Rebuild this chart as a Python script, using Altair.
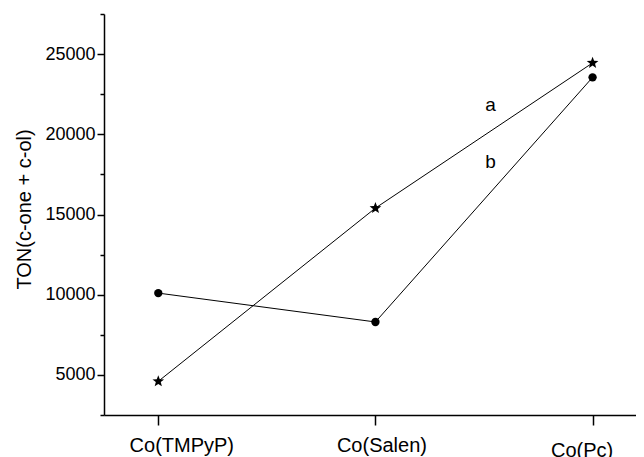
import altair as alt
import pandas as pd

categories = ["Co(TMPyP)", "Co(Salen)", "Co(Pc)"]
ton_a = [4600, 15400, 24450]    # series a (stars)
ton_b = [10100, 8300, 23550]    # series b (circles)
note_labels = ["a", "b"]
note_x = [1.53, 1.53]
note_y = [21450, 17900]
y_major = [5000, 10000, 15000, 20000, 25000]
y_minor = [2500, 7500, 12500, 17500, 22500, 27500]

rows = []
for i, c in enumerate(categories):
    rows.append({"cat": c, "pos": i, "ton": ton_a[i], "series": "a"})
    rows.append({"cat": c, "pos": i, "ton": ton_b[i], "series": "b"})
df = pd.DataFrame(rows)
notes = pd.DataFrame({"label": note_labels, "pos": note_x, "ton": note_y})

FONT = "Liberation Sans"
STAR = ("M0,-1L0.247,-0.34L0.951,-0.309L0.4,0.13L0.588,0.809L0,0.42"
        "L-0.588,0.809L-0.4,0.13L-0.951,-0.309L-0.247,-0.34Z")

label_js = "[" + ",".join("'" + c + "'" for c in categories) + "]"

x_scale = alt.Scale(domain=[-0.25, 2.2], nice=False, zero=False)
y_scale = alt.Scale(domain=[2500, 27500], nice=False, zero=False)

x_axis = alt.Axis(
    values=list(range(len(categories))),
    labelExpr=label_js + "[datum.value]",
    title=None, grid=False,
    tickSize=10, tickWidth=1.5, tickColor="black",
    domainWidth=1.5, domainColor="black",
    labelColor="black", labelFont=FONT, labelFontSize=20,
    labelFlush=False, labelOverlap=False,
    labelOffset={"expr": "datum.value == 0 ? 23 : (datum.value == 1 ? 6 : -11)"},
    labelPadding={"expr": "datum.value == 2 ? 15 : 10"},
)

y_axis = alt.Axis(
    values=sorted(y_major + y_minor),
    format="d",
    labelExpr="datum.value % 5000 == 0 ? datum.label : ''",
    tickSize={"expr": "datum.value % 5000 == 0 ? 7 : 4"},
    tickWidth=1.5, tickColor="black",
    domainWidth=1.5, domainColor="black",
    labelColor="black", labelFont=FONT, labelFontSize=18, labelPadding=2,
    labelOverlap=False,
    grid=False,
    title="TON(c-one + c-ol)",
    titleFont=FONT, titleFontSize=20, titleFontWeight="normal", titleColor="black",
    titleX=-80, titleY=195, titleAlign="center", titleBaseline="middle",
)

base = alt.Chart(df).encode(
    x=alt.X("pos:Q", scale=x_scale, axis=x_axis),
    y=alt.Y("ton:Q", scale=y_scale, axis=y_axis),
)

lines = base.mark_line(color="black", strokeWidth=1).encode(detail="series:N")
circles = base.transform_filter("datum.series == 'b'").mark_point(
    shape="circle", filled=True, size=70, color="black", opacity=1
)
stars = base.transform_filter("datum.series == 'a'").mark_point(
    shape=STAR, filled=True, size=150, color="black", opacity=1
)
notes_layer = alt.Chart(notes).mark_text(
    font=FONT, fontSize=19, baseline="alphabetic", align="center", color="black"
).encode(
    x=alt.X("pos:Q", scale=x_scale, axis=x_axis),
    y=alt.Y("ton:Q", scale=y_scale, axis=y_axis),
    text="label:N",
)

chart = alt.layer(lines, circles, stars, notes_layer).properties(
    width=532, height=401,
    padding={"left": 96, "top": 6, "right": 0, "bottom": 42},
    autosize=alt.AutoSizeParams(type="none"),
).configure_view(stroke=None)

chart.save("out.html", embed_options={"renderer": "svg", "actions": False})
